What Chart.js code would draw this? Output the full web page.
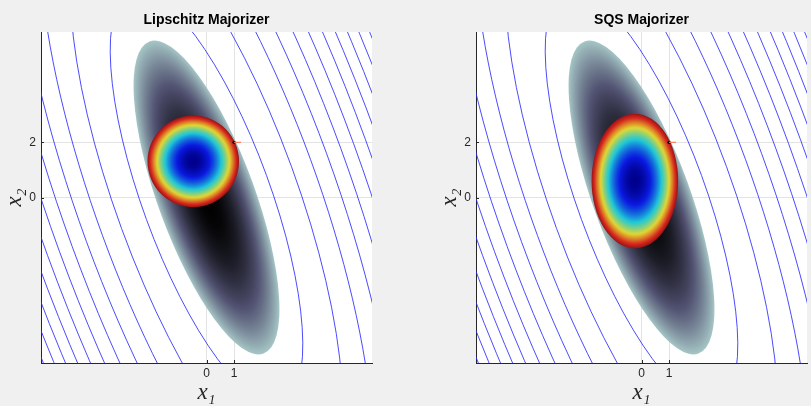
<!DOCTYPE html>
<html>
<head>
<meta charset="utf-8">
<script src="https://cdn.jsdelivr.net/npm/chart.js@4.4.0/dist/chart.umd.min.js"></script>
<style>
  html, body { margin: 0; padding: 0; background: #f0f0f0; }
  #wrap { position: relative; width: 811px; height: 406px; }
  .box { position: absolute; top: 0; height: 406px; }
</style>
</head>
<body>
<div id="wrap">
  <div class="box" style="left:0;width:405px"><canvas id="lip"></canvas></div>
  <div class="box" style="left:405px;width:406px"><canvas id="sqs"></canvas></div>
</div>
<script>
const panelTitles = ["Lipschitz Majorizer", "SQS Majorizer"];
const xTicks = [0, 1];
const yTicks = [0, 2];
const axisRange = [-6, 6];
// cost f(x) = a*x1^2 + 2*b*x1*x2 + c*x2^2, one unit between contour lines
const costMatrix = [0.166, 0.0549, 0.0359];
const contourLevels = [1, 2, 3, 4, 5, 6, 7, 8, 9, 10, 11];
const surfaceLevel = 0.574;
const currentPoint = [1, 2];
const stepMark = [[1, 2], [1.25, 2]];
// majorizer regions: centre and semi-axes (x1, x2), one per panel
const majorizerCentres = [[-0.48, 1.31], [-0.24, 0.60]];
const majorizerAxes = [[1.66, 1.66], [1.57, 2.44]];

const boneStops = [[0, 0, 0, 0], [0.375, 81, 81, 113], [0.75, 166, 198, 198], [1, 255, 255, 255]];
// jet, a little muted like the shaded surface
const jetStops = [[0, 0, 0, 140], [0.125, 10, 25, 225], [0.375, 30, 200, 215], [0.625, 225, 215, 50], [0.875, 215, 40, 30], [1, 150, 20, 20]];

function colourAt(stops, t) {
  for (let i = 1; i < stops.length; i++) {
    if (t <= stops[i][0]) {
      const p = stops[i - 1], q = stops[i];
      const f = (t - p[0]) / (q[0] - p[0]);
      const c = [1, 2, 3].map(j => Math.round(p[j] + f * (q[j] - p[j])));
      return "rgb(" + c.join(",") + ")";
    }
  }
  const l = stops[stops.length - 1];
  return "rgb(" + l[1] + "," + l[2] + "," + l[3] + ")";
}

function radialMap(ctx, stops, tMax) {
  const g = ctx.createRadialGradient(0, 0, 0, 0, 0, 1);
  const n = 60;
  for (let i = 0; i <= n; i++) {
    const s = i / n;
    g.addColorStop(s, colourAt(stops, s * s * tMax));
  }
  return g;
}

const surfacePlugin = {
  id: "surfaces",
  beforeDraw(chart) {
    const { ctx, chartArea } = chart;
    ctx.save();
    ctx.fillStyle = "#ffffff";
    ctx.fillRect(chartArea.left, chartArea.top, chartArea.width, chartArea.height + 1);
    ctx.restore();
  },
  beforeDatasetsDraw(chart, args, opts) {
    const { ctx, chartArea } = chart;
    const x = chart.scales.x, y = chart.scales.y;
    const idx = opts.panel;
    const ox = x.getPixelForValue(0), oy = y.getPixelForValue(0);
    const sx = x.getPixelForValue(1) - ox, sy = oy - y.getPixelForValue(1);
    const [a, b, c] = costMatrix;
    const theta = 0.5 * Math.atan2(2 * b, a - c);
    const mid = (a + c) / 2, rad = Math.sqrt(((a - c) / 2) ** 2 + b * b);
    const l1 = mid + rad, l2 = mid - rad;

    ctx.save();
    ctx.beginPath();
    ctx.rect(chartArea.left, chartArea.top, chartArea.width, chartArea.height);
    ctx.clip();

    // contour lines
    ctx.strokeStyle = "#2a2aff";
    ctx.lineWidth = 0.85;
    contourLevels.forEach(k => {
      ctx.save();
      ctx.translate(ox, oy);
      ctx.scale(sx, -sy);
      ctx.rotate(theta);
      ctx.beginPath();
      ctx.ellipse(0, 0, Math.sqrt(k / l1), Math.sqrt(k / l2), 0, 0, 2 * Math.PI);
      ctx.restore();
      ctx.stroke();
    });

    // cost surface below the level
    ctx.save();
    ctx.translate(ox, oy);
    ctx.scale(sx, -sy);
    ctx.rotate(theta);
    ctx.scale(Math.sqrt(surfaceLevel / l1), Math.sqrt(surfaceLevel / l2));
    ctx.fillStyle = radialMap(ctx, boneStops, 0.75);
    ctx.beginPath();
    ctx.arc(0, 0, 1, 0, 2 * Math.PI);
    ctx.fill();
    ctx.restore();

    // majorizer
    const [cx, cy] = majorizerCentres[idx];
    const [rx, ry] = majorizerAxes[idx];
    ctx.save();
    ctx.translate(x.getPixelForValue(cx), y.getPixelForValue(cy));
    ctx.scale(rx * sx, ry * sy);
    ctx.fillStyle = radialMap(ctx, jetStops, 1.0);
    ctx.beginPath();
    ctx.arc(0, 0, 1, 0, 2 * Math.PI);
    ctx.fill();
    ctx.restore();

    ctx.restore();
  },
  afterDraw(chart, args, opts) {
    const { ctx, chartArea } = chart;
    const x = chart.scales.x, y = chart.scales.y;
    ctx.save();
    ctx.strokeStyle = "#262626";
    ctx.lineWidth = 1;
    ctx.beginPath();
    xTicks.forEach(v => {
      const px = Math.round(x.getPixelForValue(v)) + 0.5;
      ctx.moveTo(px, chartArea.bottom);
      ctx.lineTo(px, chartArea.bottom - 3);
    });
    yTicks.forEach(v => {
      const py = Math.round(y.getPixelForValue(v)) + 0.5;
      ctx.moveTo(chartArea.left, py);
      ctx.lineTo(chartArea.left + 3, py);
    });
    ctx.stroke();
    ctx.fillStyle = "#000000";
    ctx.font = 'bold 14px "Liberation Sans", Arial, sans-serif';
    ctx.textAlign = "center";
    ctx.textBaseline = "middle";
    ctx.fillText(panelTitles[opts.panel], (chartArea.left + chartArea.right) / 2, 20);
    ctx.restore();
  }
};

const tickFont = { family: '"Liberation Sans", Arial, sans-serif', size: 12 };
const labelFont = { family: '"Liberation Serif", "DejaVu Serif", serif', style: "italic", size: 23, lineHeight: 1 };

function makeChart(id, idx, padLeft, padRight) {
  return new Chart(document.getElementById(id), {
    type: "scatter",
    data: {
      datasets: [
        {
          type: "line",
          data: stepMark.map(p => ({ x: p[0], y: p[1] })),
          borderColor: "#ff7a5a",
          borderWidth: 1.2,
          pointRadius: 0,
        },
        {
          data: [{ x: currentPoint[0], y: currentPoint[1] }],
          pointRadius: 1.6,
          backgroundColor: "#000000",
          borderWidth: 0,
        },
      ],
    },
    options: {
      responsive: true,
      maintainAspectRatio: false,
      animation: false,
      layout: { padding: { left: padLeft, right: padRight, top: 32, bottom: 0 } },
      plugins: {
        legend: { display: false },
        tooltip: { enabled: false },
        surfaces: { panel: idx },
      },
      scales: {
        x: {
          type: "linear",
          min: axisRange[0],
          max: axisRange[1],
          afterBuildTicks: s => { s.ticks = xTicks.map(v => ({ value: v })); },
          afterFit: s => { s.height = 43; },
          grid: { color: "#e3e3e3", drawTicks: false },
          border: { color: "#262626", width: 1 },
          ticks: { padding: 3, color: "#262626", font: tickFont, autoSkip: false, maxRotation: 0 },
          title: { display: true, text: "x₁", color: "#262626", font: labelFont, padding: { top: 0, bottom: 2 } },
        },
        y: {
          type: "linear",
          min: axisRange[0],
          max: axisRange[1],
          afterBuildTicks: s => { s.ticks = yTicks.map(v => ({ value: v })); },
          afterFit: s => { s.width = 41; },
          grid: { color: "#e3e3e3", drawTicks: false },
          border: { color: "#262626", width: 1 },
          ticks: { padding: 5, color: "#262626", font: tickFont, autoSkip: false },
          title: { display: true, text: "x₂", color: "#262626", font: labelFont, padding: { top: 3, bottom: 0 } },
        },
      },
    },
    plugins: [surfacePlugin],
  });
}

makeChart("lip", 0, 0, 33);
makeChart("sqs", 1, 30, 4);
</script>
</body>
</html>
